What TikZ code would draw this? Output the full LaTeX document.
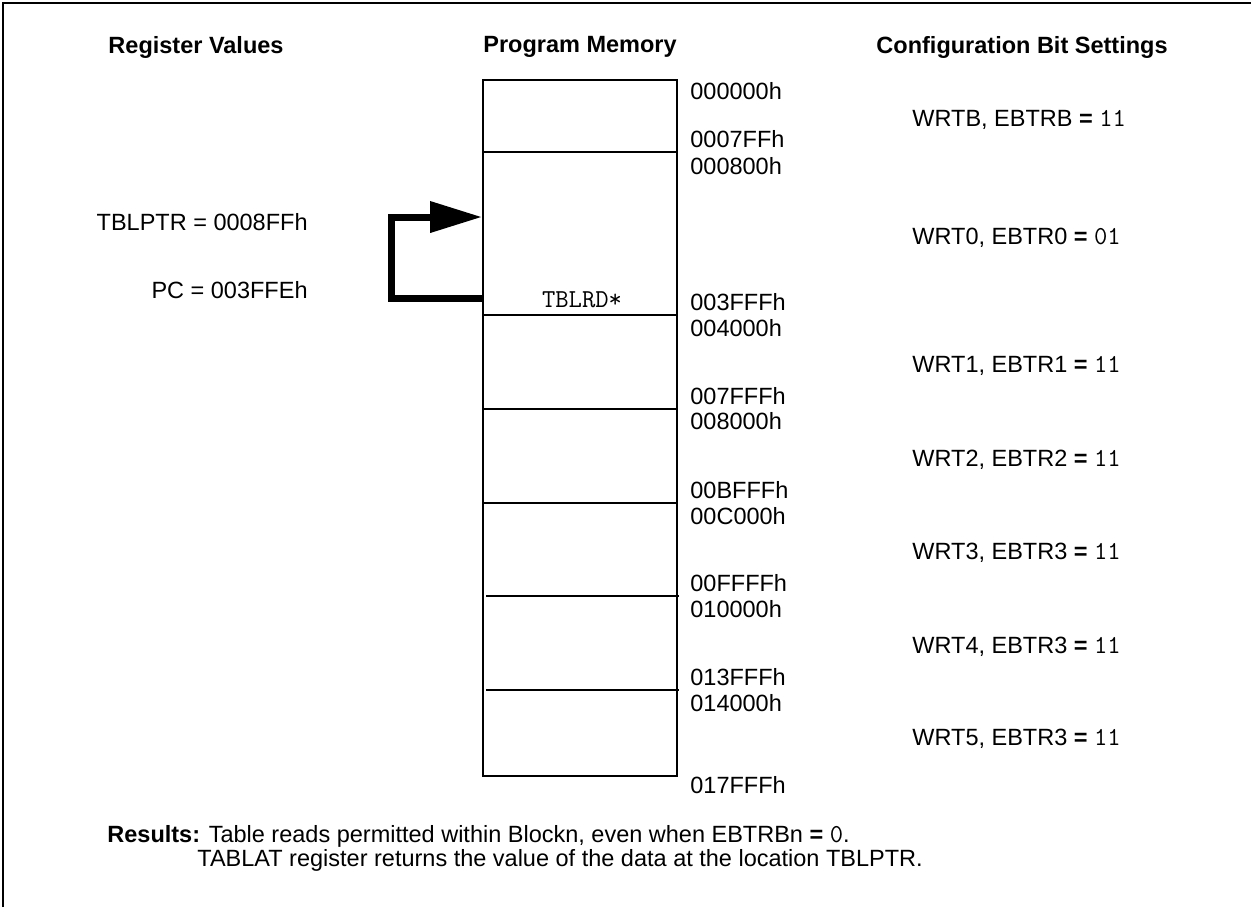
\documentclass[tikz,border=0pt]{standalone}
\usepackage{fontspec}
\setmainfont{Liberation Sans}
\newfontfamily\bitfont{Latin Modern Mono}[Scale=1.1]
\usetikzlibrary{arrows.meta}
\newcommand{\addrlbl}[3]% name, y, address
{\node[addr] (#1) at (690,#2) {#3};
}
\newcommand{\bitset}[4]% name, y, text, value
{\node[setting] (#1) at (912,#2) {#3 \textbf{=} {\bitfont #4}};
}

\begin{document}
\begin{tikzpicture}[x=0.5pt,y=-0.5pt,
	every node/.style={font=\fontsize{11.75pt}{14pt}\selectfont, inner sep=0pt},
	heading/.style={font=\fontsize{11.75pt}{14pt}\selectfont\bfseries},
	addr/.style={anchor=west},
	setting/.style={anchor=west},
	regval/.style={anchor=east},
	memline/.style={line width=1pt},
	frameline/.style={line width=1.25pt},
	ptrarrow/.style={line width=3.5pt, -{Triangle[length=26pt,width=15pt]}}]
	\useasboundingbox (0,0) rectangle (1251,907);
	\draw[frameline] (3,907) -- (3,3) -- (1251,3);
	% column headings
	\node[heading] (reghead) at (196,47) {Register Values};
	\node[heading] (memhead) at (580,47) {Program Memory};
	\node[heading] (cfghead) at (1022,47) {Configuration Bit Settings};
	% memory map
	\draw[memline] (483,80) rectangle (677,776);
	\foreach \y in {152,315,409,503}
		\draw[memline] (483,\y) -- (677,\y);
	\foreach \y in {596,690}
		\draw[memline] (486,\y) -- (679,\y);
	\node (tblrd) at (582,300) {\bitfont TBLRD*};
	\addrlbl{a0}{91}{000000h}%boot
	\addrlbl{a1}{139}{0007FFh}
	\addrlbl{a2}{166}{000800h}%block 0
	\addrlbl{a3}{302}{003FFFh}
	\addrlbl{a4}{328}{004000h}%block 1
	\addrlbl{a5}{396}{007FFFh}
	\addrlbl{a6}{421}{008000h}%block 2
	\addrlbl{a7}{490}{00BFFFh}
	\addrlbl{a8}{516}{00C000h}%block 3
	\addrlbl{a9}{583}{00FFFFh}
	\addrlbl{a10}{609}{010000h}%block 4
	\addrlbl{a11}{677}{013FFFh}
	\addrlbl{a12}{703}{014000h}%block 5
	\addrlbl{a13}{785}{017FFFh}
	% configuration bits
	\bitset{wrtb}{120}{WRTB, EBTRB}{11}
	\bitset{wrt0}{238}{WRT0, EBTR0}{01}
	\bitset{wrt1}{366}{WRT1, EBTR1}{11}
	\bitset{wrt2}{460}{WRT2, EBTR2}{11}
	\bitset{wrt3}{553}{WRT3, EBTR3}{11}
	\bitset{wrt4}{647}{WRT4, EBTR3}{11}
	\bitset{wrt5}{739}{WRT5, EBTR3}{11}
	% registers
	\node[regval] (tblptr) at (308,222) {TBLPTR = 0008FFh};
	\node[regval] (pc) at (308,290) {PC = 003FFEh};
	\coordinate (pcrow) at (483,298);
	\coordinate (ptrrow) at (482,217);
	\draw[ptrarrow] (pcrow) -- ++(-92,0) |- (ptrrow);
	% results
	\node[anchor=west] (results) at (107,836) {\textbf{Results:} Table reads permitted within Blockn, even when EBTRBn \textbf{=} {\bitfont 0}.};
	\node[anchor=west] (tablat) at (197,860) {TABLAT register returns the value of the data at the location TBLPTR.};
\end{tikzpicture}
\end{document}
